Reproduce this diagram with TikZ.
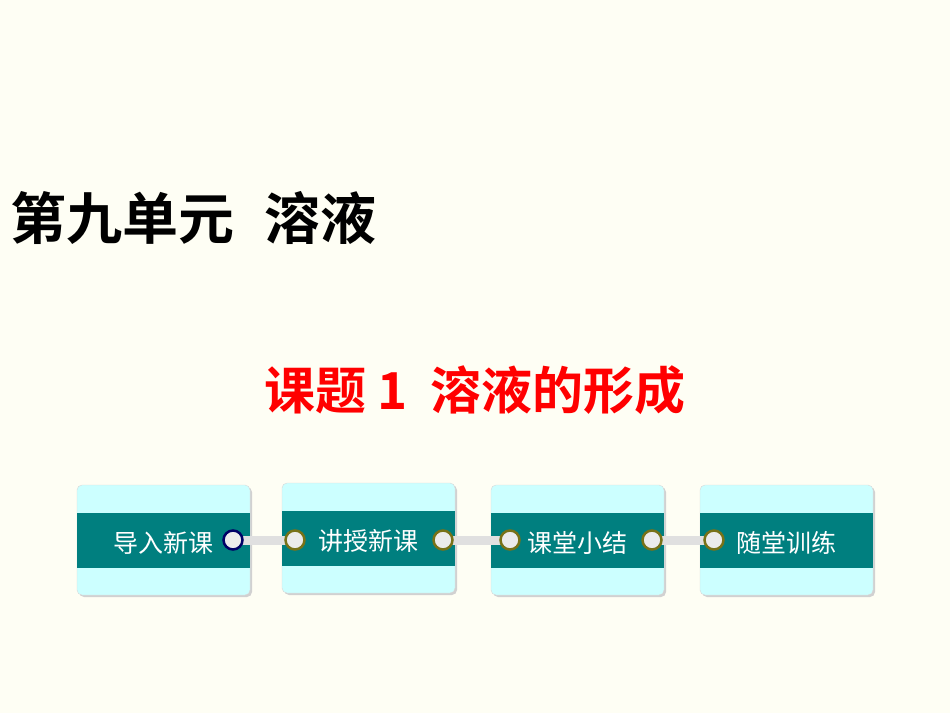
\documentclass[tikz,border=0pt]{standalone}
\usepackage{fontspec}
\newfontfamily\cjk{Noto Sans CJK SC}
\newfontfamily\cjkb{Noto Sans CJK SC Bold}
\definecolor{bg}{HTML}{FEFEF4}
\definecolor{lightc}{HTML}{CCFFFF}
\definecolor{teal2}{HTML}{007F7F}
\tikzset{
 card/.style={fill=lightc,rounded corners=5pt,draw=black!15},
 band/.style={fill=teal2},
 lbl/.style={text=white,font=\cjk\fontsize{25}{25}\selectfont,anchor=center},
 ring/.style={circle,minimum size=19pt,inner sep=0pt,fill=black!8,draw=#1,line width=2.5pt},
 bar/.style={line width=9pt,draw=black!12},
}
\begin{document}
\begin{tikzpicture}[x=1pt,y=-1pt]
\fill[bg] (0,0) rectangle (950,713);
\useasboundingbox (0,0) rectangle (950,713);
\node[anchor=west,inner sep=0pt,font=\cjkb\fontsize{56}{56}\selectfont] (t1) at (10,218) {第九单元\hspace{30pt}溶液};
\node[text=red,inner sep=0pt,font=\cjkb\fontsize{51}{51}\selectfont] (t2) at (475,390) {课题 1\ \ 溶液的形成};
\foreach \i/\x/\y/\t in {1/77/485/导入新课,2/282/483/讲授新课,3/491/485/课堂小结,4/700/485/随堂训练}{
  \fill[black!18] (\x+2,\y+2) [rounded corners=5pt] rectangle ++(173,110);
  \path[card] (\x,\y) rectangle ++(173,110);
  \fill[band] (\x,\y+28) rectangle ++(173,55);
  \node[lbl] (l\i) at (\x+86,\y+58) {\t};
}
\draw[bar] (233,540) -- (295,540);
\draw[bar] (443,540) -- (510,540);
\draw[bar] (652,540) -- (714,540);
\node[ring=blue!40!black] (r1) at (233,540) {};
\node[ring=olive!80!black] (r2) at (295,540) {};
\node[ring=olive!80!black] (r3) at (443,540) {};
\node[ring=olive!80!black] (r4) at (510,540) {};
\node[ring=olive!80!black] (r5) at (652,540) {};
\node[ring=olive!80!black] (r6) at (714,540) {};
\end{tikzpicture}
\end{document}
